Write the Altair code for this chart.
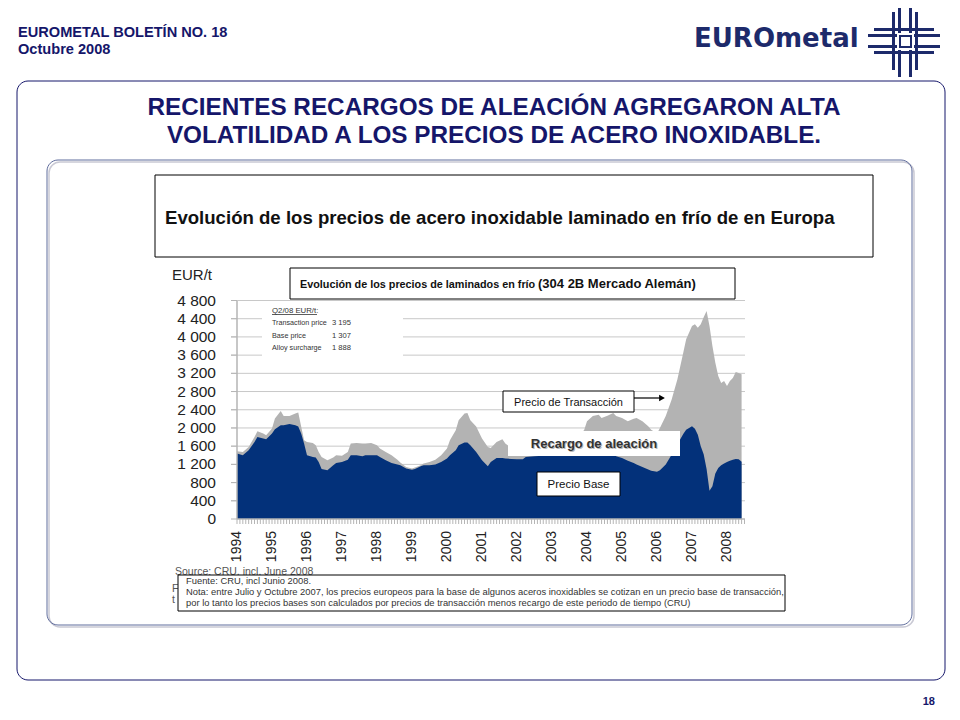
import altair as alt
import pandas as pd

# ---------------- data ----------------
months = [
    "1994-01", "1994-03", "1994-05", "1994-07", "1994-08", "1994-10", "1994-11",
    "1995-01", "1995-02", "1995-04", "1995-05", "1995-07", "1995-09", "1995-10", "1995-11", "1995-12",
    "1996-01", "1996-03", "1996-04", "1996-05", "1996-06", "1996-08", "1996-10", "1996-11",
    "1997-01", "1997-03", "1997-04", "1997-06", "1997-08", "1997-09", "1997-11",
    "1998-01", "1998-02", "1998-04", "1998-06", "1998-08", "1998-09", "1998-11",
    "1999-01", "1999-02", "1999-04", "1999-05", "1999-07", "1999-09", "1999-11",
    "2000-01", "2000-02", "2000-04", "2000-05", "2000-07", "2000-08", "2000-09", "2000-11",
    "2001-01", "2001-03", "2001-04", "2001-06", "2001-08", "2001-09", "2001-11",
    "2002-01", "2002-03", "2002-04", "2002-07", "2002-10",
    "2003-01", "2003-04", "2003-07", "2003-10", "2003-12",
    "2004-01", "2004-03", "2004-05", "2004-06", "2004-08", "2004-10", "2004-11",
    "2005-01", "2005-03", "2005-05", "2005-06", "2005-08", "2005-10", "2005-11",
    "2006-01", "2006-02", "2006-04", "2006-06", "2006-08", "2006-10", "2006-11",
    "2007-01", "2007-02", "2007-03", "2007-04", "2007-05", "2007-06", "2007-07", "2007-08",
    "2007-09", "2007-10", "2007-11", "2007-12",
    "2008-01", "2008-02", "2008-03", "2008-04", "2008-05", "2008-06",
]
base_price = [
    1440, 1400, 1510, 1690, 1800, 1770, 1750,
    1880, 1970, 2060, 2060, 2085, 2060, 2030, 1880, 1660,
    1400, 1360, 1350, 1250, 1100, 1070, 1180, 1230,
    1250, 1300, 1400, 1400, 1380, 1400, 1400,
    1400, 1360, 1290, 1230, 1200, 1180, 1110,
    1080, 1100, 1160, 1180, 1180, 1200, 1250,
    1330, 1400, 1510, 1620, 1680, 1680, 1620, 1470,
    1290, 1160, 1250, 1340, 1340, 1330, 1320,
    1310, 1310, 1360, 1380, 1390,
    1390, 1400, 1400, 1410, 1410,
    1420, 1420, 1425, 1425, 1420, 1410, 1380,
    1340, 1280, 1230, 1200, 1140, 1090, 1060,
    1040, 1070, 1200, 1410, 1640, 1870, 1960,
    2035, 1980, 1850, 1600, 1420, 1100, 620, 720,
    1000, 1120, 1180, 1220,
    1250, 1280, 1300, 1316, 1310, 1260,
]
transaction_price = [
    1490, 1470, 1580, 1800, 1930, 1880, 1840,
    1990, 2210, 2370, 2260, 2260, 2320, 2340, 2030, 1730,
    1690, 1670, 1620, 1470, 1360, 1290, 1350, 1400,
    1390, 1470, 1660, 1670, 1660, 1660, 1670,
    1620, 1550, 1470, 1400, 1300, 1240, 1140,
    1110, 1130, 1180, 1220, 1250, 1300, 1400,
    1550, 1730, 1950, 2170, 2320, 2330, 2170, 2030,
    1770, 1580, 1560, 1690, 1750, 1660, 1560,
    1500, 1480, 1500, 1560, 1600,
    1620, 1680, 1750, 1850, 1950,
    2150, 2260, 2290, 2220, 2270, 2330, 2260,
    2220, 2150, 2200, 2220, 2150, 2040, 1960,
    1880, 2000, 2260, 2620, 3070, 3650, 3950,
    4240, 4280, 4200, 4280, 4430, 4570, 4240, 3800,
    3430, 3140, 2990, 3030,
    2920, 3030, 3100, 3230, 3210, 3180,
]
year_labels = list(range(1994, 2009))
y_ticks = list(range(0, 4801, 400))

header_1 = "EUROMETAL BOLETÍN NO. 18"
header_2 = "Octubre 2008"
title_1 = "RECIENTES  RECARGOS DE ALEACIÓN AGREGARON ALTA"
title_2 = "VOLATILIDAD A LOS PRECIOS DE ACERO INOXIDABLE."
subtitle = "Evolución de los precios de acero inoxidable laminado en frío de en Europa"
chart_title_a = "Evolución de los precios de laminados en frío"
chart_title_b = "(304  2B Mercado  Alemán)"
q2_lines = ["Transaction price", "Base price", "Alloy surcharge"]
q2_values = ["3 195", "1 307", "1 888"]
foot_lines = [
    "Fuente: CRU, incl Junio 2008.",
    "Nota: entre Julio y Octubre 2007, los precios europeos  para la base de algunos aceros inoxidables se cotizan en un precio base de transacción,",
    "por lo tanto los precios bases son calculados por precios de transacción menos recargo de este periodo de tiempo (CRU)",
]


def dec_year(m):
    y, mo = m.split("-")
    return int(y) + (int(mo) - 1) / 12.0


df = pd.DataFrame({
    "mes": months,
    "t": [dec_year(m) for m in months],
    "base": base_price,
    "trans": transaction_price,
})
grid_df = pd.DataFrame({"v": y_ticks[1:]})
ytick_df = pd.DataFrame({"v": y_ticks, "lab": [f"{v:,}".replace(",", " ") for v in y_ticks]})
year_df = pd.DataFrame({"t": year_labels, "lab": [str(y) for y in year_labels]})
month_df = pd.DataFrame({"t": [y + m / 12.0 for y in range(1994, 2009) for m in range(12)
                                if y + m / 12.0 <= 2008.5]})

# ---------------- layout helpers (reference pixel coords -> canvas) ----------------
W, H = 944, 704
OFF = 8
NAVY = "#15166a"
FONT = "Liberation Sans"
AXIS_GRAY = "#b5b5b5"
one = pd.DataFrame({"k": [0]})


def P(v):
    return v - OFF


def rect(x1, y1, x2, y2, fill="white", stroke=None, sw=1.0, r=0, fill_opacity=1.0):
    kw = dict(fill=fill, fillOpacity=fill_opacity, cornerRadius=r)
    if stroke:
        kw.update(stroke=stroke, strokeWidth=sw)
    else:
        kw.update(strokeWidth=0)
    return alt.Chart(one).mark_rect(**kw).encode(
        x=alt.value(P(x1)), x2=alt.value(P(x2)), y=alt.value(P(y1)), y2=alt.value(P(y2)))


def text(x, y, s, size=12, weight="normal", color="#222", align="left", font=FONT):
    return alt.Chart(one).mark_text(
        text=s, fontSize=size, fontWeight=weight, color=color, align=align,
        baseline="alphabetic", font=font).encode(x=alt.value(P(x)), y=alt.value(P(y)))


def hline(x1, x2, y, color="black", sw=1.0):
    return alt.Chart(one).mark_rule(color=color, strokeWidth=sw).encode(
        x=alt.value(P(x1)), x2=alt.value(P(x2)), y=alt.value(P(y)))


def vline(x, y1, y2, color="black", sw=1.0):
    return alt.Chart(one).mark_rule(color=color, strokeWidth=sw).encode(
        x=alt.value(P(x)), y=alt.value(P(y1)), y2=alt.value(P(y2)))


layers = []

# frames
layers.append(rect(17, 81, 945, 680, fill="white", stroke=NAVY, sw=1.0, r=11, fill_opacity=0))
layers.append(rect(49, 162, 914, 627, fill="white", stroke="#c9c9d4", sw=1.5, r=11, fill_opacity=0))
layers.append(rect(47, 160, 912, 625, fill="white", stroke="#5f6c9c", sw=1.0, r=11, fill_opacity=0))

# header
layers.append(text(18, 37, header_1, size=14.6, weight="bold", color=NAVY))
layers.append(text(18, 53.5, header_2, size=14.6, weight="bold", color=NAVY))

# logo
LOGO = "#1d2a6b"
layers.append(text(694, 47, "EUROmetal", size=26, weight="bold", color=LOGO, font="DejaVu Sans"))
for x1, y1, x2, y2 in [
    (892, 12, 895, 70), (898, 5, 901, 77), (909, 5, 912, 77), (915, 12, 918, 70),
    (874, 28, 934, 31), (868, 34, 940, 37), (868, 45, 940, 48), (874, 51, 934, 54),
]:
    layers.append(rect(x1, y1, x2, y2, fill=LOGO))
layers.append(rect(897, 33, 914, 50, fill="white"))
layers.append(rect(900, 36, 911, 47, fill="white", stroke=LOGO, sw=2))

# title
layers.append(text(494, 115, title_1, size=24.3, weight="bold", color=NAVY, align="center"))
layers.append(text(494, 143, title_2, size=24.3, weight="bold", color=NAVY, align="center"))

# subtitle box
layers.append(rect(155, 175, 873, 257, fill="white", stroke="black", sw=1))
layers.append(text(165, 224, subtitle, size=18.6, weight="bold", color="#111"))

# ---------------- chart ----------------
xs = alt.Scale(domain=[1994, 2008.5], range=[P(237), P(744.5)], nice=False, zero=False)
ys = alt.Scale(domain=[0, 4800], range=[P(519), P(300.5)], nice=False)

grid = alt.Chart(grid_df).mark_rule(color="#c8c8c8", strokeWidth=1).encode(
    y=alt.Y("v:Q", scale=ys, axis=None), x=alt.value(P(231)), x2=alt.value(P(745)))
layers.append(grid)

gray_area = alt.Chart(df).mark_area(color="#b3b3b3", opacity=1).encode(
    x=alt.X("t:Q", scale=xs, axis=None),
    y=alt.Y("trans:Q", scale=ys, axis=None))
blue_area = alt.Chart(df).mark_area(color="#03317a", opacity=1).encode(
    x=alt.X("t:Q", scale=xs, axis=None),
    y=alt.Y("base:Q", scale=ys, axis=None))
layers += [gray_area, blue_area]

# axes drawn from the scales
layers.append(vline(237, 301, 519, color=AXIS_GRAY, sw=1.5))
layers.append(alt.Chart(ytick_df).mark_rule(color=AXIS_GRAY, strokeWidth=1).encode(
    y=alt.Y("v:Q", scale=ys, axis=None), x=alt.value(P(231)), x2=alt.value(P(237))))
layers.append(alt.Chart(ytick_df).mark_text(
    align="right", baseline="middle", fontSize=15.5, font=FONT, color="#222").encode(
    y=alt.Y("v:Q", scale=ys, axis=None), x=alt.value(P(216)), text="lab:N"))
layers.append(hline(237, 745, 519, color=AXIS_GRAY, sw=1.5))
layers.append(alt.Chart(month_df).mark_rule(color=AXIS_GRAY, strokeWidth=1).encode(
    x=alt.X("t:Q", scale=xs, axis=None), y=alt.value(P(519)), y2=alt.value(P(524))))
layers.append(alt.Chart(year_df).mark_text(
    align="right", baseline="middle", angle=270, fontSize=14, font=FONT, color="#222").encode(
    x=alt.X("t:Q", scale=xs, axis=None), y=alt.value(P(531)), text="lab:N"))

# "EUR/t"
layers.append(text(172, 280, "EUR/t", size=15, color="#222"))

# Q2/08 inset
layers.append(rect(262, 304, 403, 361, fill="white"))
layers.append(text(272, 312.5, "Q2/08 EUR/t:", size=7.8, color="#333"))
layers.append(hline(272, 317, 314.5, color="#333", sw=0.8))
for i, (lab, val) in enumerate(zip(q2_lines, q2_values)):
    yy = 325 + i * 12.5
    layers.append(text(272, yy, lab, size=7.2, color="#333"))
    layers.append(text(351, yy, val, size=7.6, color="#333", align="right"))

# chart title box
layers.append(rect(290, 268, 735, 299, fill="white", stroke="black", sw=1))
layers.append(text(300, 288, chart_title_a, size=10.8, weight="bold", color="#111"))
layers.append(text(538, 288, chart_title_b, size=13, weight="bold", color="#111"))

# in-chart labels
layers.append(rect(503, 391, 634, 412, fill="white", stroke="black", sw=1))
layers.append(text(568.5, 405.5, "Precio de Transacción", size=11, color="#111", align="center"))
layers.append(hline(634, 660, 398, color="black", sw=1.2))
layers.append(alt.Chart(one).mark_point(shape="triangle-right", filled=True, color="black", size=45, opacity=1)
              .encode(x=alt.value(P(662)), y=alt.value(P(398))))
layers.append(rect(508, 431, 680, 456, fill="white"))
layers.append(text(595, 449, "Recargo  de aleación", size=13, weight="bold", color="#b9b9b9", align="center"))
layers.append(text(594, 448, "Recargo  de aleación", size=13, weight="bold", color="#333", align="center"))
layers.append(rect(537, 472, 620, 496, fill="white", stroke="black", sw=1))
layers.append(text(578.5, 488, "Precio Base", size=11.5, color="#111", align="center"))

# source text partly hidden behind the footnote box
layers.append(text(175, 574.5, "Source: CRU, incl. June 2008", size=10.5, color="#555"))
layers.append(text(172, 592, "F", size=10.5, color="#555"))
layers.append(text(172, 603, "t", size=10.5, color="#555"))

# footnote box
layers.append(rect(178, 575, 785, 611, fill="white", stroke="black", sw=1))
for i, line in enumerate(foot_lines):
    layers.append(text(186, 584 + i * 11, line, size=9.4, color="#333"))

# page number
layers.append(text(935, 705, "18", size=11, weight="bold", color=NAVY, align="right"))

chart = alt.layer(*layers).properties(
    width=W, height=H, padding=0, background="white",
    autosize=alt.AutoSizeParams(type="none"),
).configure_view(strokeWidth=0)

chart.save("out.html", embed_options={"renderer": "svg", "actions": False})
